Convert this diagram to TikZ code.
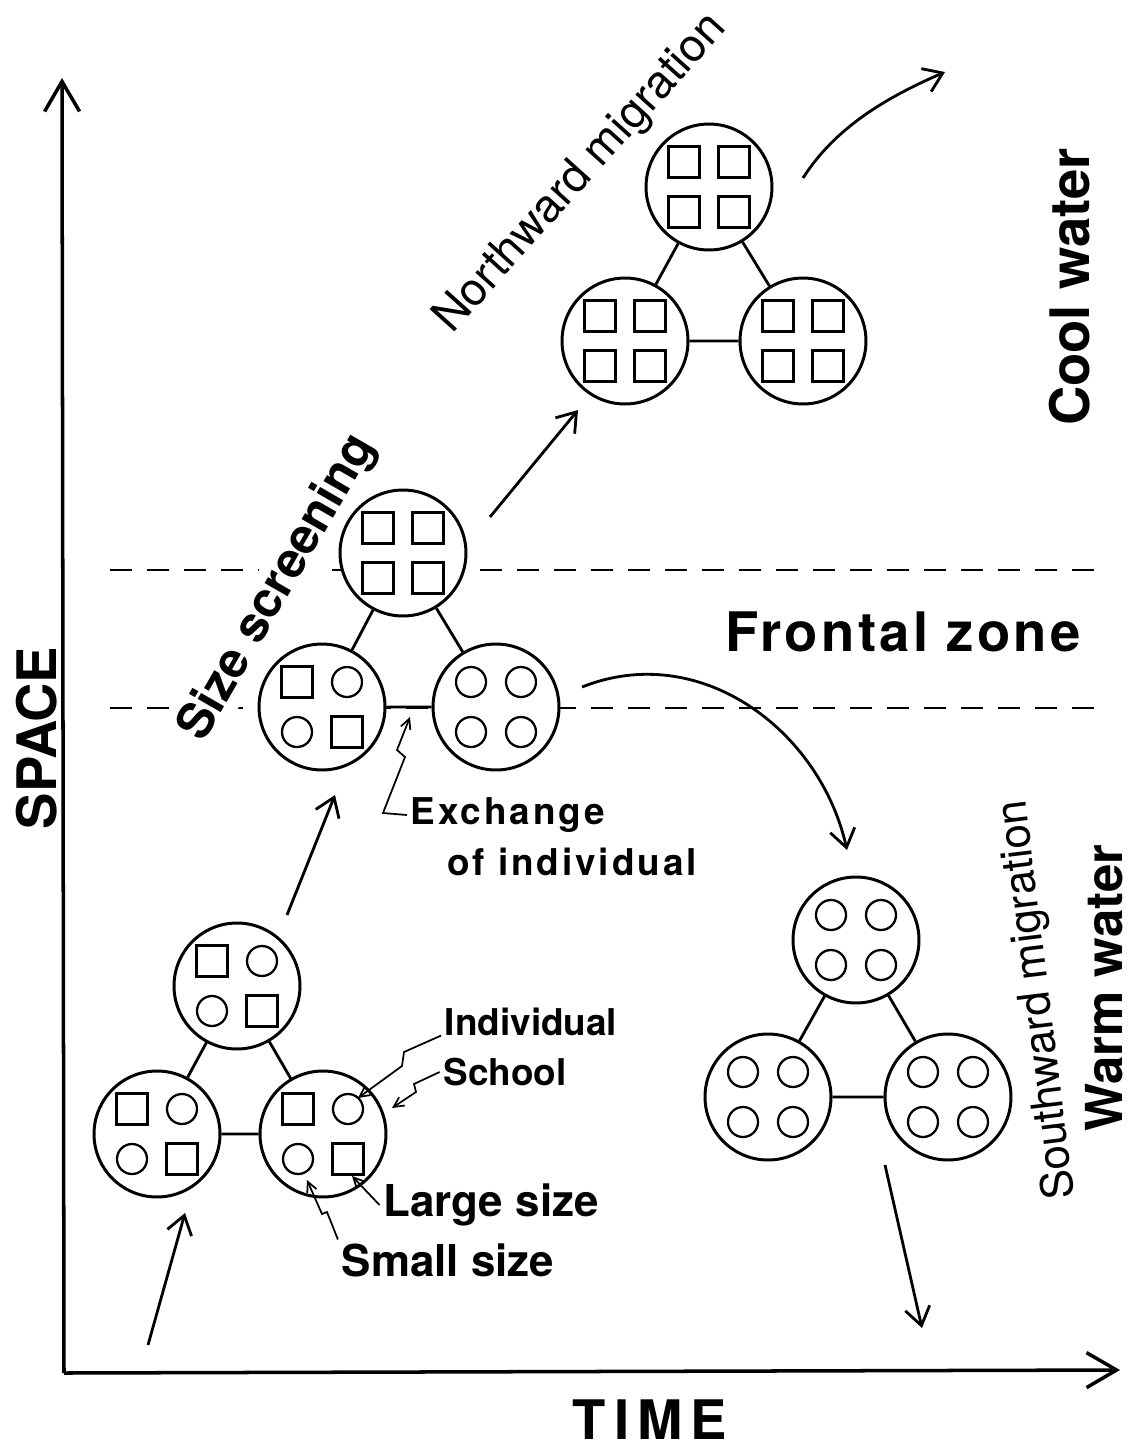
\documentclass[tikz,border=0pt]{standalone}
\usepackage{fontspec}
\setmainfont{TeX Gyre Heros}
\usetikzlibrary{arrows.meta}

% one school: a ring with four individuals in it
\newcommand{\shoal}[6]{%
  \node[school] (#1) at (#2) {};
  \node[#3] at ([shift={(-25,-25)}]#1) {};
  \node[#4] at ([shift={(25,-25)}]#1) {};
  \node[#5] at ([shift={(-25,25)}]#1) {};
  \node[#6] at ([shift={(25,25)}]#1) {};}

\begin{document}
\begin{tikzpicture}[x=0.02cm,y=-0.02cm,
    school/.style={circle,draw,fill=white,line width=1.7pt,minimum size=2.52cm,inner sep=0pt},
    largefish/.style={draw,line width=1.3pt,minimum size=0.62cm,inner sep=0pt},
    smallfish/.style={circle,draw,line width=1.3pt,minimum size=0.6cm,inner sep=0pt},
    tie/.style={line width=1.6pt},
    front/.style={line width=1.6pt,dash pattern=on 0.44cm off 0.3cm},
    timeaxis/.style={line width=2pt,-{Straight Barb[length=0.6cm,width=0.7cm]}},
    migr/.style={line width=1.6pt,-{Straight Barb[length=0.36cm,width=0.5cm]}},
    leader/.style={line width=1pt,-{Straight Barb[length=0.2cm,width=0.2cm]}},
    bigtext/.style={font=\fontsize{31}{31}\selectfont\bfseries},
    note/.style={inner sep=2pt,font=\fontsize{21}{21}\selectfont\bfseries},
  ]
  \useasboundingbox (0,0) rectangle (1137,1455);

  % axes
  \coordinate (origin) at (64,1373);
  \coordinate (spacetip) at (62,78);
  \coordinate (timetip) at (1120,1370);
  \draw[timeaxis] (origin) -- (spacetip);
  \draw[timeaxis] (origin) -- (timetip);
  \node[bigtext,rotate=90] (space) at (37,738) {SPACE};
  \node[bigtext] (time) at (650,1420) {\addfontfeatures{LetterSpace=15}TIME};

  % frontal zone
  \draw[front] (110,570) -- (1095,570);
  \draw[front] (110,708) -- (1095,708);
  \node[bigtext] (frontal) at (903,632) {\addfontfeatures{LetterSpace=6}Frontal zone};
  \node[bigtext,rotate=90] (cool) at (1070,287) {Cool water};
  \node[bigtext,rotate=90,inner sep=1pt,font=\fontsize{29}{29}\selectfont\bfseries] (warm) at (1104,988) {Warm water};
  \node[rotate=60,fill=white,inner sep=1pt,font=\fontsize{28}{28}\selectfont\bfseries] (screen) at (278,588) {Size screening};
  \node[rotate=48,font=\fontsize{26}{26}\selectfont] (north) at (581,174) {Northward migration};
  \node[rotate=97,font=\fontsize{25}{25}\selectfont] (south) at (1038,1000) {Southward migration};

  % schools
  \shoal{ga-t}{237,986}{largefish}{smallfish}{smallfish}{largefish}
  \shoal{ga-l}{157,1134}{largefish}{smallfish}{smallfish}{largefish}
  \shoal{ga-r}{323,1134}{largefish}{smallfish}{smallfish}{largefish}
  \shoal{gb-t}{403,553}{largefish}{largefish}{largefish}{largefish}
  \shoal{gb-l}{322,707}{largefish}{smallfish}{smallfish}{largefish}
  \shoal{gb-r}{496,707}{smallfish}{smallfish}{smallfish}{smallfish}
  \shoal{gc-t}{709,187}{largefish}{largefish}{largefish}{largefish}
  \shoal{gc-l}{625,341}{largefish}{largefish}{largefish}{largefish}
  \shoal{gc-r}{803,341}{largefish}{largefish}{largefish}{largefish}
  \shoal{gd-t}{856,940}{smallfish}{smallfish}{smallfish}{smallfish}
  \shoal{gd-l}{768,1097}{smallfish}{smallfish}{smallfish}{smallfish}
  \shoal{gd-r}{948,1097}{smallfish}{smallfish}{smallfish}{smallfish}
  \foreach \g in {ga,gb,gc,gd}
    \draw[tie] (\g-t) -- (\g-l) (\g-l) -- (\g-r) (\g-r) -- (\g-t);

  % migration
  \coordinate (in) at (148,1345);
  \coordinate (in-end) at (185,1213);
  \coordinate (up) at (287,915);
  \coordinate (up-end) at (335,795);
  \coordinate (nw) at (490,517);
  \coordinate (nw-end) at (578,410);
  \coordinate (out) at (803,178);
  \coordinate (out-end) at (945,72);
  \coordinate (sw) at (582,687);
  \coordinate (sw-end) at (847,850);
  \coordinate (down) at (885,1165);
  \coordinate (down-end) at (922,1328);
  \draw[migr] (in) -- (in-end);
  \draw[migr] (up) -- (up-end);
  \draw[migr] (nw) -- (nw-end);
  \draw[migr] (out) .. controls (835,128) and (885,98) .. (out-end);
  \draw[migr] (sw) .. controls (700,640) and (820,730) .. (sw-end);
  \draw[migr] (down) -- (down-end);

  % notes
  \node[note] (ind) at (531,1022) {Individual};
  \node[note] (schooltext) at (505,1072) {School};
  \node[note,font=\fontsize{25}{25}\selectfont\bfseries] (large) at (491,1205) {Large size};
  \node[note,font=\fontsize{25}{25}\selectfont\bfseries] (small) at (448,1260) {Small size};
  \node[note] (exch) at (508,815) {\addfontfeatures{LetterSpace=8}Exchange};
  \node[note] (ofind) at (572,862) {\addfontfeatures{LetterSpace=8}of individual};
  \draw[leader] (ind.base west) -- (404,1052) -- (402,1066) -- (358,1098);
  \draw[leader] (schooltext.west) -- (414,1084) -- (416,1092) -- (392,1108);
  \draw[leader] (large.west) -- (352,1176);
  \draw[leader] (small.north west) -- (327,1212) -- (322,1214) -- (307,1180);
  \draw[leader] (exch.west) -- (383,813) -- (405,757) -- (397,750) -- (410,717);
\end{tikzpicture}
\end{document}
